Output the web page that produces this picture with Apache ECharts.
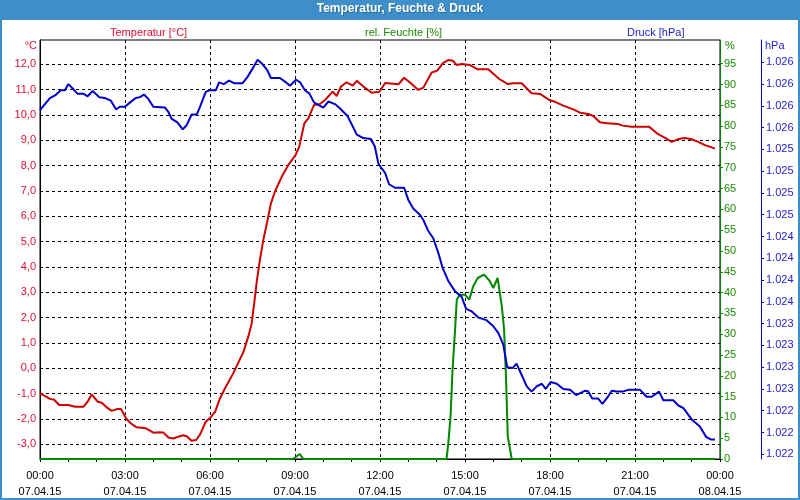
<!DOCTYPE html>
<html>
<head>
<meta charset="utf-8">
<script src="https://cdn.jsdelivr.net/npm/echarts@6.0.0/dist/echarts.min.js"></script>
<style>
html,body{margin:0;padding:0;background:#fff;}
#chart{width:800px;height:500px;}
</style>
</head>
<body>
<div id="chart"></div>
<script>
// ---- data (hours since 07.04.15 00:00) ----
const tempHours = [0,0.18,0.35,0.49,0.68,1.0,1.24,1.53,1.68,1.82,
2.04,2.18,2.33,2.53,2.71,2.86,3.04,3.20,3.41,3.74,
4.00,4.21,4.35,4.53,4.70,4.88,5.06,5.18,5.35,5.51,
5.65,5.85,6.02,6.18,6.35,6.53,6.82,7.18,7.35,7.47,
7.56,7.65,7.76,7.88,8.02,8.15,8.29,8.53,8.76,9.02,
9.15,9.33,9.47,9.67,9.88,10.06,10.33,10.47,10.62,10.82,
11.04,11.18,11.41,11.71,11.98,12.18,12.65,12.85,13.12,13.35,
13.53,13.82,14.02,14.23,14.41,14.57,14.71,14.88,15.18,15.43,
15.82,16.21,16.51,16.70,17.00,17.35,17.65,17.98,18.18,18.47,
18.82,19.06,19.35,19.53,19.76,20.02,20.41,20.57,20.88,21.49,
21.82,22.06,22.30,22.53,22.76,23.00,23.23,23.47,23.71,23.82];
const tempValues = [-0.99,-1.10,-1.21,-1.23,-1.45,-1.45,-1.52,-1.52,-1.32,-1.03,
-1.32,-1.36,-1.52,-1.68,-1.61,-1.61,-1.98,-2.17,-2.33,-2.37,
-2.54,-2.52,-2.53,-2.73,-2.77,-2.70,-2.64,-2.68,-2.86,-2.83,
-2.61,-2.11,-1.94,-1.72,-1.19,-0.79,-0.20,0.65,1.25,1.77,
2.56,3.42,4.27,5.06,5.79,6.51,6.97,7.56,8.02,8.42,
8.75,9.67,9.87,10.39,10.43,10.59,10.92,10.75,11.12,11.29,
11.16,11.35,11.12,10.88,10.92,11.26,11.21,11.47,11.22,10.99,
11.08,11.67,11.75,12.06,12.17,12.14,11.97,12.01,11.97,11.81,
11.81,11.42,11.22,11.25,11.25,10.86,10.83,10.59,10.52,10.37,
10.22,10.09,10.04,9.96,9.71,9.67,9.64,9.58,9.54,9.54,
9.24,9.10,8.94,9.05,9.09,9.04,8.94,8.81,8.72,8.67];

const humHours = [0,8.93,9.17,9.29,14.35,14.41,14.49,14.56,14.65,14.71,14.82,15.0,15.15,
15.29,15.45,15.67,15.86,16.0,16.15,16.21,16.30,16.38,16.45,16.51,16.65,23.82];
const humValues = [0,0,1.2,0,0,3.8,10.2,21.4,31.1,38.3,39.5,39.5,38.3,
41.5,43.5,44.3,42.9,41.1,43.5,43.1,36.7,31.1,19.0,5.4,0,0];

const pressHours = [0,0.35,0.53,0.73,0.88,1.00,1.18,1.32,1.53,1.68,
1.86,2.09,2.29,2.50,2.68,2.82,3.00,3.18,3.38,3.53,
3.67,3.82,4.00,4.41,4.53,4.65,4.85,5.04,5.18,5.35,
5.53,5.65,5.85,6.00,6.21,6.32,6.49,6.67,6.85,7.15,
7.32,7.47,7.68,7.85,8.02,8.15,8.47,8.68,8.82,9.04,
9.18,9.35,9.51,9.67,9.82,10.00,10.18,10.41,10.59,10.86,
11.18,11.41,11.68,11.82,11.94,12.04,12.18,12.32,12.53,12.85,
13.00,13.18,13.41,13.53,13.71,13.88,14.06,14.21,14.41,14.65,
14.88,15.04,15.24,15.47,15.76,16.00,16.18,16.35,16.49,16.68,
16.82,17.00,17.18,17.35,17.53,17.71,17.85,18.02,18.24,18.47,
18.71,18.92,19.12,19.24,19.35,19.49,19.70,19.85,20.02,20.18,
20.35,20.57,20.76,21.18,21.41,21.59,21.85,22.00,22.35,22.53,
22.71,23.00,23.29,23.51,23.67,23.82];
const pressValues = [1025.70,1025.84,1025.87,1025.93,1025.93,1026.00,1025.94,1025.89,1025.89,1025.86,
1025.92,1025.85,1025.84,1025.81,1025.71,1025.74,1025.74,1025.79,1025.84,1025.85,
1025.88,1025.83,1025.74,1025.73,1025.68,1025.60,1025.56,1025.48,1025.53,1025.65,
1025.65,1025.74,1025.91,1025.93,1025.93,1026.02,1026.00,1026.04,1026.01,1026.01,
1026.08,1026.16,1026.28,1026.23,1026.16,1026.07,1026.07,1026.02,1025.98,1026.05,
1026.02,1025.93,1025.89,1025.79,1025.76,1025.73,1025.80,1025.77,1025.72,1025.63,
1025.42,1025.38,1025.37,1025.28,1025.09,1025.04,1024.98,1024.85,1024.81,1024.81,
1024.67,1024.57,1024.50,1024.44,1024.31,1024.23,1024.06,1023.89,1023.74,1023.62,
1023.56,1023.42,1023.39,1023.32,1023.29,1023.22,1023.14,1023.01,1022.75,1022.74,
1022.79,1022.66,1022.53,1022.47,1022.53,1022.56,1022.50,1022.58,1022.56,1022.50,
1022.49,1022.43,1022.46,1022.48,1022.47,1022.39,1022.39,1022.33,1022.40,1022.48,
1022.47,1022.47,1022.49,1022.49,1022.41,1022.41,1022.47,1022.37,1022.37,1022.31,
1022.28,1022.15,1022.07,1021.95,1021.92,1021.92];

const tempTicks = [-3,-2,-1,0,1,2,3,4,5,6,7,8,9,10,11,12];
const humTicks = [0,5,10,15,20,25,30,35,40,45,50,55,60,65,70,75,80,85,90,95];
const pressTicks = [1021.75,1022,1022.25,1022.5,1022.75,1023,1023.25,1023.5,1023.75,1024,1024.25,1024.5,1024.75,1025,1025.25,1025.5,1025.75,1026,1026.25];
const timeLabels = {0:'00:00\n07.04.15',3:'03:00\n07.04.15',6:'06:00\n07.04.15',9:'09:00\n07.04.15',12:'12:00\n07.04.15',15:'15:00\n07.04.15',18:'18:00\n07.04.15',21:'21:00\n07.04.15',24:'00:00\n08.04.15'};

const seriesNames = ['Temperatur [°C]','rel. Feuchte [%]','Druck [hPa]'];

function zip(a,b){return a.map((v,i)=>[v,b[i]]);}

const FONT = 'Liberation Sans';
const RED = '#cc0000', GREEN = '#008800', BLUE = '#0000cc';
const RED_T = '#dd1030', GREEN_T = '#1a8a00', BLUE_T = '#2222cc';
const FRAME = '#3d8ec9';

function legendFor(i, left, color){
  return {left:left, top:22, icon:'rect', itemWidth:0, itemHeight:0, itemGap:0,
    itemStyle:{opacity:0}, lineStyle:{opacity:0}, selectedMode:false,
    data:[{name:seriesNames[i], textStyle:{color:color}}],
    textStyle:{fontSize:11, fontFamily:FONT, padding:0}};
}

const chart = echarts.init(document.getElementById('chart'), null, {renderer:'canvas'});
chart.setOption({
  animation:false,
  backgroundColor:'#ffffff',
  textStyle:{fontFamily:FONT},
  title:{text:'Temperatur, Feuchte & Druck', left:'center', top:3, padding:0,
    textStyle:{color:'#ffffff', fontWeight:'bold', fontSize:12, fontFamily:FONT,
      textShadowColor:'rgba(0,0,0,0.25)', textShadowBlur:1, textShadowOffsetX:1, textShadowOffsetY:1}},
  legend:[legendFor(0,100,RED_T), legendFor(1,355,GREEN_T), legendFor(2,617,BLUE_T)],
  graphic:[
    {type:'rect', z:-1, shape:{x:0,y:0,width:800,height:20}, style:{fill:FRAME}},
    {type:'rect', z:100, shape:{x:1,y:1,width:798,height:498}, style:{fill:'none', stroke:FRAME, lineWidth:2}},
    {type:'text', x:37, y:46, style:{text:'°C', fill:RED_T, font:'11px '+FONT, align:'right', verticalAlign:'middle'}},
    {type:'text', x:725, y:46, style:{text:'%', fill:GREEN_T, font:'11px '+FONT, align:'left', verticalAlign:'middle'}},
    {type:'text', x:765, y:46, style:{text:'hPa', fill:BLUE_T, font:'11px '+FONT, align:'left', verticalAlign:'middle'}}
  ],
  grid:{left:40, right:80, top:40, bottom:41, show:true, backgroundColor:'#ffffff', borderColor:'#000', borderWidth:1},
  xAxis:{type:'value', min:0, max:24, interval:3,
    axisLine:{onZero:false, lineStyle:{color:'#000'}},
    axisTick:{length:3, lineStyle:{color:'#000'}},
    minorTick:{show:true, splitNumber:3, length:3, lineStyle:{color:'#000'}},
    splitLine:{show:true, lineStyle:{type:[3,3], color:'#000'}},
    axisLabel:{formatter:v=>timeLabels[v]||'', color:'#000', fontSize:11, lineHeight:16, margin:9, showMinLabel:true, showMaxLabel:true}},
  yAxis:[
    {type:'value', position:'left', min:-3.58, max:12.96,
      axisLine:{show:true, lineStyle:{color:'#000'}},
      axisTick:{show:false, customValues:tempTicks},
      axisLabel:{customValues:tempTicks, formatter:v=>v.toFixed(1).replace('.',','), color:RED_T, fontSize:11, margin:4},
      splitLine:{show:true, lineStyle:{type:[3,3], color:'#000'}}},
    {type:'value', position:'right', min:0, max:100.7,
      axisLine:{show:true, lineStyle:{color:GREEN}},
      axisTick:{show:true, length:3, customValues:humTicks, lineStyle:{color:GREEN}},
      axisLabel:{customValues:humTicks, color:GREEN_T, fontSize:11, margin:4},
      splitLine:{show:false}},
    {type:'value', position:'right', offset:41, min:1021.696, max:1026.506,
      axisLine:{show:true, lineStyle:{color:BLUE}},
      axisTick:{show:true, length:3, customValues:pressTicks, lineStyle:{color:BLUE}},
      axisLabel:{customValues:pressTicks, formatter:v=>{const r=Math.round(v); return Math.floor(r/1000)+'.'+String(r%1000).padStart(3,'0');}, color:BLUE_T, fontSize:11, margin:5},
      splitLine:{show:false}}
  ],
  series:[
    {name:seriesNames[0], type:'line', yAxisIndex:0, data:zip(tempHours,tempValues), showSymbol:false, symbol:'none', color:RED, lineStyle:{width:2, color:RED}, z:3},
    {name:seriesNames[1], type:'line', yAxisIndex:1, data:zip(humHours,humValues), showSymbol:false, symbol:'none', color:GREEN, lineStyle:{width:2, color:GREEN}, z:4},
    {name:seriesNames[2], type:'line', yAxisIndex:2, data:zip(pressHours,pressValues), showSymbol:false, symbol:'none', color:BLUE, lineStyle:{width:2, color:BLUE}, z:5}
  ]
});
</script>
</body>
</html>
